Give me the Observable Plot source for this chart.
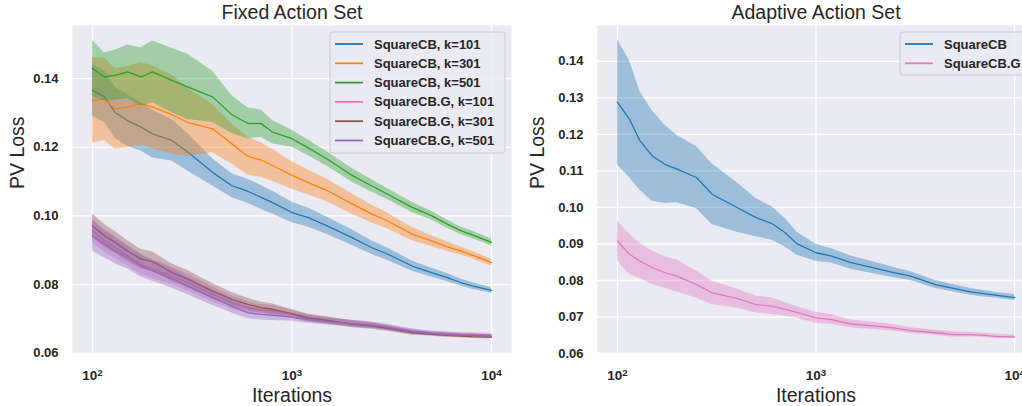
<!DOCTYPE html>
<html><head><meta charset="utf-8">
<script src="https://cdn.jsdelivr.net/npm/d3@7"></script>
<script src="https://cdn.jsdelivr.net/npm/@observablehq/plot@0.6"></script>
<style>
body{margin:0;background:#fff;}
#wrap{position:relative;width:1022px;height:406px;overflow:hidden;font-family:"Liberation Sans",Arial,sans-serif;}
#wrap svg{position:absolute;top:0;}
</style></head><body><div id="wrap"></div>
<script>
// ---- data ----
const iters = [100,115,130,150,175,200,250,300,400,500,600,700,800,1000,1200,1500,2000,2500,3000,4000,5000,6000,7000,8000,10000];

// Fixed action set
const sqcb101    = [.1366,.1347,.1301,.1278,.1259,.1239,.1220,.1186,.1127,.1088,.1072,.1054,.1039,.1010,.0996,.0971,.0937,.0908,.0889,.0854,.0835,.0820,.0806,.0796,.0783];
const sqcb101Err = [.0075,.0075,.0075,.0075,.0070,.0070,.0060,.0055,.0040,.0035,.0035,.0035,.0033,.0030,.0028,.0025,.0023,.0020,.0018,.0015,.0013,.0012,.0010,.0010,.0008];
const sqcb301    = [.1337,.1340,.1312,.1317,.1327,.1317,.1295,.1273,.1254,.1210,.1174,.1163,.1147,.1118,.1098,.1074,.1035,.1006,.0986,.0947,.0927,.0910,.0898,.0886,.0864];
const sqcb301Err = [.0124,.0120,.0118,.0118,.0120,.0121,.0115,.0100,.0070,.0059,.0055,.0050,.0047,.0040,.0036,.0033,.0030,.0026,.0023,.0019,.0016,.0014,.0012,.0011,.0010];
const sqcb501    = [.1430,.1405,.1410,.1420,.1405,.1420,.1395,.1376,.1347,.1295,.1270,.1269,.1244,.1225,.1199,.1166,.1118,.1088,.1064,.1025,.1001,.0976,.0957,.0945,.0923];
const sqcb501Err = [.0082,.0070,.0073,.0078,.0085,.0090,.0094,.0095,.0075,.0055,.0045,.0040,.0034,.0025,.0023,.0021,.0020,.0018,.0016,.0015,.0013,.0012,.0011,.0011,.0010];
const sqcbG101    = [.0957,.0927,.0908,.0884,.0859,.0845,.0825,.0806,.0772,.0747,.0733,.0726,.0724,.0713,.0701,.0694,.0686,.0681,.0674,.0662,.0658,.0656,.0655,.0655,.0653];
const sqcbG101Err = [.0035,.0033,.0032,.0030,.0029,.0028,.0026,.0025,.0022,.0020,.0018,.0016,.0015,.0012,.0011,.0010,.0010,.0009,.0008,.0007,.0006,.0006,.0005,.0005,.0005];
const sqcbG301    = [.0971,.0942,.0923,.0898,.0874,.0867,.0835,.0816,.0781,.0757,.0742,.0733,.0728,.0715,.0703,.0696,.0684,.0679,.0672,.0659,.0655,.0652,.0650,.0648,.0647];
const sqcbG301Err = [.0035,.0033,.0032,.0030,.0029,.0028,.0026,.0025,.0022,.0020,.0018,.0016,.0015,.0012,.0011,.0010,.0010,.0009,.0008,.0007,.0006,.0006,.0005,.0005,.0005];
const sqcbG501    = [.0942,.0918,.0898,.0879,.0854,.0840,.0818,.0796,.0762,.0737,.0718,.0713,.0710,.0705,.0698,.0692,.0686,.0682,.0676,.0664,.0658,.0655,.0653,.0652,.0649];
const sqcbG501Err = [.0045,.0040,.0037,.0034,.0032,.0030,.0028,.0026,.0023,.0020,.0018,.0016,.0015,.0012,.0011,.0010,.0010,.0009,.0008,.0007,.0006,.0006,.0005,.0005,.0005];

// Adaptive action set
const adSqcb     = [.1288,.1242,.1182,.1141,.1117,.1105,.1082,.1036,.1000,.0972,.0956,.0931,.0901,.0876,.0867,.0849,.0833,.0821,.0812,.0789,.0778,.0769,.0764,.0760,.0753];
const adSqcbErr  = [.0172,.0160,.0135,.0124,.0106,.0092,.0085,.0083,.0068,.0052,.0046,.0039,.0032,.0023,.0020,.0018,.0016,.0014,.0012,.0011,.0010,.0009,.0009,.0008,.0008];
const adSqcbG    = [.0908,.0872,.0853,.0835,.0821,.0812,.0789,.0766,.0751,.0734,.0730,.0721,.0713,.0698,.0693,.0681,.0675,.0670,.0663,.0657,.0652,.0652,.0650,.0647,.0646];
const adSqcbGErr = [.0055,.0055,.0048,.0046,.0043,.0044,.0037,.0032,.0026,.0023,.0023,.0019,.0016,.0015,.0013,.0011,.0010,.0009,.0008,.0007,.0007,.0006,.0006,.0006,.0005];

const fixedLabels = ["SquareCB, k=101","SquareCB, k=301","SquareCB, k=501","SquareCB.G, k=101","SquareCB.G, k=301","SquareCB.G, k=501"];
const fixedColors = ["#1f77b4","#ff7f0e","#2ca02c","#e377c2","#8c564b","#9467bd"];
const adaptiveLabels = ["SquareCB","SquareCB.G"];
const adaptiveColors = ["#1f77b4","#e377c2"];

const xTicks = [100, 1000, 10000];
const fixedYTicks = [0.06, 0.08, 0.10, 0.12, 0.14];
const adaptiveYTicks = [0.06, 0.07, 0.08, 0.09, 0.10, 0.11, 0.12, 0.13, 0.14];

// ---- drawing ----
const FONT = "'Liberation Sans', Arial, sans-serif";
const TXT = "#262626";

function table(mean, err) {
  return iters.map((x, i) => ({x, m: mean[i], lo: mean[i] - err[i], hi: mean[i] + err[i]}));
}

function panel({title, series, labels, colors, yDomain, yTicks, left, width, mLeft, mRight, legend}) {
  const marks = [
    Plot.frame({fill: "#eaeaf2", stroke: null}),
    Plot.gridX(xTicks, {stroke: "white", strokeOpacity: 1, strokeWidth: 1.3}),
    Plot.gridY(yTicks.filter(d => d > yDomain[0]), {stroke: "white", strokeOpacity: 1, strokeWidth: 1.3}),
  ];
  series.forEach((s, i) => {
    const t = table(s[0], s[1]);
    marks.push(Plot.areaY(t, {x: "x", y1: "lo", y2: "hi", fill: colors[i], fillOpacity: 0.38}));
    marks.push(Plot.lineY(t, {x: "x", y: "m", stroke: colors[i], strokeWidth: 1.3}));
  });
  marks.push(
    Plot.axisX(xTicks, {tickSize: 0, tickPadding: 18, fontSize: 13.5, fontWeight: "bold", fill: TXT, label: null, tickFormat: d => String(Math.round(Math.log10(d)))}),
    Plot.axisY(yTicks, {tickSize: 0, tickPadding: 14, fontSize: 13, fontWeight: "bold", fill: TXT, label: null, tickFormat: d3.format(".2f")}),
    Plot.text([title], {frameAnchor: "top", lineAnchor: "middle", dy: -13, fontSize: 19.5, fill: TXT}),
    Plot.text(["Iterations"], {frameAnchor: "bottom", lineAnchor: "middle", dy: 43, fontSize: 19.5, fill: TXT}),
    Plot.text(["PV Loss"], {frameAnchor: "left", lineAnchor: "middle", dx: -(mLeft - 17.5), rotate: -90, fontSize: 19.5, fill: TXT})
  );
  const svg = Plot.plot({
    width, height: 406,
    marginLeft: mLeft, marginRight: mRight, marginTop: 25, marginBottom: 54,
    style: {background: "transparent", fontFamily: FONT, overflow: "visible"},
    x: {type: "log", domain: [Math.pow(10, 1.9), Math.pow(10, 4.1)]},
    y: {domain: yDomain},
    marks
  });
  svg.style.left = left + "px";
  // superscript exponents on x tick labels
  d3.select(svg).selectAll('g[aria-label="x-axis tick label"] text').each(function() {
    const e = this.textContent;
    const t = d3.select(this);
    t.text("10");
    t.append("tspan").attr("dy", "-0.45em").attr("font-size", "0.72em").text(e);
  });
  // legend
  const g = d3.select(svg).append("g").attr("font-family", FONT).attr("font-weight", "bold")
    .attr("font-size", 13).attr("text-anchor", "start");
  g.append("rect").attr("x", legend.x).attr("y", legend.y).attr("width", legend.w).attr("height", legend.h)
    .attr("rx", 3).attr("fill", "#eaeaf2").attr("fill-opacity", 0.8).attr("stroke", "#cccccc");
  labels.forEach((lab, i) => {
    const yy = legend.y + 12 + i * 19.3;
    g.append("line").attr("x1", legend.x + 5).attr("x2", legend.x + 33).attr("y1", yy).attr("y2", yy)
      .attr("stroke", colors[i]).attr("stroke-width", 1.8);
    g.append("text").attr("x", legend.x + 44).attr("y", yy).attr("dy", "0.35em")
      .attr("text-anchor", "start").attr("fill", TXT).text(lab);
  });
  document.getElementById("wrap").appendChild(svg);
}

panel({
  title: "Fixed Action Set",
  series: [[sqcb101, sqcb101Err],[sqcb301, sqcb301Err],[sqcb501, sqcb501Err],[sqcbG101, sqcbG101Err],[sqcbG301, sqcbG301Err],[sqcbG501, sqcbG501Err]],
  labels: fixedLabels, colors: fixedColors,
  yDomain: [0.0602, 0.1555], yTicks: fixedYTicks,
  left: 0, width: 520, mLeft: 72, mRight: 9,
  legend: {x: 330, y: 32, w: 175, h: 121}
});
panel({
  title: "Adaptive Action Set",
  series: [[adSqcb, adSqcbErr],[adSqcbG, adSqcbGErr]],
  labels: adaptiveLabels, colors: adaptiveColors,
  yDomain: [0.0603, 0.1498], yTicks: adaptiveYTicks,
  left: 520, width: 520, mLeft: 77, mRight: 6,
  legend: {x: 380, y: 32, w: 150, h: 43}
});
</script></body></html>
